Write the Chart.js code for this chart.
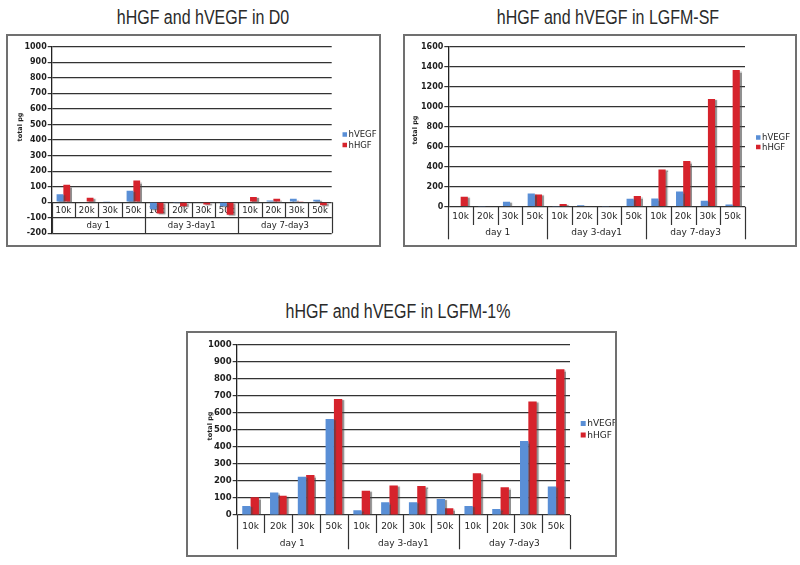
<!DOCTYPE html>
<html><head><meta charset="utf-8">
<script src="https://cdn.jsdelivr.net/npm/chart.js@4.4.0/dist/chart.umd.min.js"></script>
<style>
html,body{margin:0;padding:0;background:#fff;width:800px;height:565px;overflow:hidden;}
.title{position:absolute;font-family:"Liberation Sans","Open Sans",sans-serif;font-size:20px;line-height:23px;color:#2a2a2a;white-space:nowrap;transform:translateX(-50%) scaleX(0.8);}
.box{position:absolute;border:2px solid #707070;overflow:hidden;}
.box canvas{position:absolute;left:0;top:0;}
</style></head><body>
<div class="title" style="left:203px;top:6px">hHGF and hVEGF in D0</div>
<div class="title" style="left:608px;top:6px">hHGF and hVEGF in LGFM-SF</div>
<div class="title" style="left:398px;top:300px">hHGF and hVEGF in LGFM-1%</div>
<div class="box" style="left:6px;top:34px;width:371px;height:209px"><canvas id="c1" width="371" height="209"></canvas></div>
<div class="box" style="left:403px;top:34px;width:390px;height:209px"><canvas id="c2" width="390" height="209"></canvas></div>
<div class="box" style="left:186px;top:331px;width:427px;height:222px"><canvas id="c3" width="427" height="222"></canvas></div>
<script>
// ---- data ----
const densities = ['10k', '20k', '30k', '50k'];
const periods = ['day 1', 'day 3-day1', 'day 7-day3'];
const seriesNames = ['hVEGF', 'hHGF'];
const yTitle = 'total pg';

// hHGF and hVEGF in D0
const d0VEGF = [51, 0, 3, 73, -45, -2, -4, -26, 0, 11, 22, 15];
const d0HGF  = [112, 28, 4, 139, -72, -26, -14, -80, 33, 22, 3, -20];
// hHGF and hVEGF in LGFM-SF
const sfVEGF = [0, 5, 50, 133, 5, 15, 4, 80, 83, 153, 60, 23];
const sfHGF  = [100, 0, 0, 123, 27, 0, 0, 107, 373, 457, 1077, 1367];
// hHGF and hVEGF in LGFM-1%
const pcVEGF = [53, 133, 225, 565, 28, 75, 75, 94, 53, 35, 435, 167];
const pcHGF  = [104, 113, 235, 682, 143, 173, 170, 39, 245, 163, 667, 857];

const labels = periods.flatMap(() => densities);
const BLUE = '#5a8fd6', RED = '#d6232c';
const LINE = '#333333', TXT = '#1e1e1e';

const tablePlugin = {
  id: 'tbl',
  beforeDatasetsDraw(chart, args, o) {
    const ctx = chart.ctx, x = chart.scales.x, y = chart.scales.y;
    const y0 = y.getPixelForValue(0);
    const r1 = o.r1Val != null ? y.getPixelForValue(o.r1Val) : y0 + o.r1;
    const r2 = o.r2Val != null ? y.getPixelForValue(o.r2Val) : y0 + o.r2;
    const half = (x.getPixelForValue(1) - x.getPixelForValue(0)) / 2;
    const n = chart.data.labels.length;
    const bx = i => i < n ? x.getPixelForValue(i) - half : x.getPixelForValue(n - 1) + half;
    ctx.save();
    ctx.strokeStyle = LINE; ctx.lineWidth = 1.2;
    for (let i = 0; i <= n; i++) {
      const xx = Math.round(bx(i)) + 0.5;
      ctx.beginPath(); ctx.moveTo(xx, y0); ctx.lineTo(xx, i % 4 === 0 ? r2 : r1); ctx.stroke();
    }
    ctx.fillStyle = TXT; ctx.textAlign = 'center'; ctx.textBaseline = 'middle';
    ctx.font = o.fontSize + 'px "DejaVu Sans"';
    chart.data.labels.forEach((l, i) => ctx.fillText(l, x.getPixelForValue(i), y0 + o.l1));
    o.groups.forEach((g, k) => ctx.fillText(g, (bx(4 * k) + bx(4 * k + 4)) / 2, y0 + o.l2));
    ctx.restore();
    ctx.save();
    ctx.shadowColor = 'rgba(70,70,70,0.6)'; ctx.shadowOffsetX = 2; ctx.shadowOffsetY = 1; ctx.shadowBlur = 1;
  },
  afterDatasetsDraw(chart) { chart.ctx.restore(); },
  afterDraw(chart, args, o) {
    const ctx = chart.ctx;
    ctx.save();
    ctx.translate(o.tx, o.ty); ctx.rotate(-Math.PI / 2);
    ctx.fillStyle = TXT; ctx.font = 'bold ' + o.tSize + 'px "DejaVu Sans"';
    ctx.textAlign = 'center'; ctx.textBaseline = 'middle';
    ctx.fillText(yTitle, 0, 0);
    ctx.restore();
    ctx.save();
    ctx.font = o.legSize + 'px "DejaVu Sans"'; ctx.textBaseline = 'middle'; ctx.textAlign = 'left';
    chart.data.datasets.forEach((d, i) => {
      const yc = o.legY + i * o.legGap;
      ctx.fillStyle = d.backgroundColor;
      ctx.fillRect(o.legX, yc - o.sq / 2, o.sq, o.sq);
      ctx.fillStyle = TXT;
      ctx.fillText(d.label, o.legX + o.sq + 1.5, yc + 0.5);
    });
    ctx.restore();
  }
};

function makeChart(id, vegf, hgf, c) {
  return new Chart(document.getElementById(id), {
    type: 'bar',
    data: {
      labels: labels,
      datasets: [
        { label: seriesNames[0], data: vegf, backgroundColor: BLUE },
        { label: seriesNames[1], data: hgf, backgroundColor: RED }
      ]
    },
    options: {
      responsive: false, animation: false, devicePixelRatio: 1,
      layout: { padding: c.pad },
      datasets: { bar: { categoryPercentage: c.cat, barPercentage: 1, borderWidth: 0 } },
      plugins: { legend: { display: false }, tooltip: { enabled: false }, tbl: c.tbl },
      scales: {
        x: { display: false, offset: true },
        y: {
          min: c.min, max: c.max,
          ticks: { stepSize: c.step, color: TXT, padding: 1, callback: v => String(v),
                   font: { family: 'DejaVu Sans', size: c.tick, weight: 'bold' } },
          grid: { color: LINE, lineWidth: 1.2, tickLength: 4, tickColor: LINE },
          border: { color: '#222', width: 1.3 },
          afterFit(s) { s.width = c.yw; }
        }
      }
    },
    plugins: [tablePlugin]
  });
}

makeChart('c1', d0VEGF, d0HGF, {
  min: -200, max: 1000, step: 100, tick: 8, cat: 0.58, yw: 39.7,
  pad: { left: 4, top: 10.7, right: 47.3, bottom: 11.7 },
  tbl: { r1Val: -100, r2Val: -200, l1: 8.6, l2: 23.8, fontSize: 8.5, groups: periods,
         tx: 12, ty: 91, tSize: 6.5, legX: 334.5, legY: 98.5, legGap: 10.5, sq: 4.5, legSize: 8.5 }
});
makeChart('c2', sfVEGF, sfHGF, {
  min: 0, max: 1600, step: 200, tick: 8, cat: 0.58, yw: 39.3,
  pad: { left: 4, top: 10.7, right: 50, bottom: 38.3 },
  tbl: { r1: 18.3, r2: 32.6, l1: 10, l2: 26, fontSize: 9, groups: periods,
         tx: 10, ty: 94, tSize: 6.5, legX: 351, legY: 101.5, legGap: 9.5, sq: 4.5, legSize: 8.5 }
});
makeChart('c3', pcVEGF, pcHGF, {
  min: 0, max: 1000, step: 100, tick: 8.5, cat: 0.6, yw: 44.7,
  pad: { left: 4, top: 12, right: 45, bottom: 40 },
  tbl: { r1: 18, r2: 34.3, l1: 11.7, l2: 28.3, fontSize: 9, groups: periods,
         tx: 22, ty: 93, tSize: 6.5, legX: 392.7, legY: 90.5, legGap: 11.5, sq: 5, legSize: 9 }
});
</script>
</body></html>
